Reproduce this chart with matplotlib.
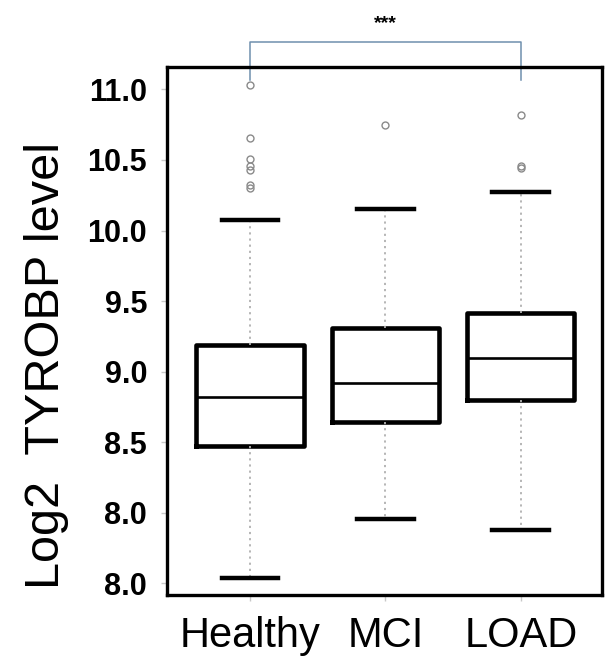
import matplotlib
matplotlib.use("Agg")
import matplotlib.pyplot as plt

# ---- data ----
groups = ["Healthy", "MCI", "LOAD"]
whisker_low = [7.54, 7.955, 7.88]
q1 = [8.473, 8.643, 8.80]
median = [8.82, 8.92, 9.097]
q3 = [9.19, 9.31, 9.416]
whisker_high = [10.075, 10.153, 10.275]
fliers_healthy = [11.03, 10.656, 10.51, 10.46, 10.43, 10.32, 10.30]
fliers_mci = [10.748]
fliers_load = [10.819, 10.458, 10.44]
ytick_values = [7.5, 8.0, 8.5, 9.0, 9.5, 10.0, 10.5, 11.0]
ytick_labels = ["8.0", "8.0", "8.5", "9.0", "9.5", "10.0", "10.5", "11.0"]
ylabel = "Log2  TYROBP level"
sig_text = "***"
sig_pair = (0, 2)

fliers = [fliers_healthy, fliers_mci, fliers_load]

plt.rcParams['font.family'] = ['Liberation Sans', 'DejaVu Sans']

fig = plt.figure(figsize=(6.07, 6.59), dpi=100)
ax = fig.add_axes([0.2746, 0.0971, 0.7171, 0.8017])

stats = []
for i, g in enumerate(groups):
    stats.append(dict(label=g, whislo=whisker_low[i], q1=q1[i], med=median[i],
                      q3=q3[i], whishi=whisker_high[i], fliers=fliers[i]))

positions = [1, 2, 3]
ax.bxp(stats, positions=positions, widths=0.79, showfliers=True,
       boxprops=dict(color='black', linewidth=3.3),
       medianprops=dict(color='black', linewidth=1.9),
       whiskerprops=dict(color='#b0b0b0', linewidth=1.3, linestyle=(0, (1.2, 2.2))),
       capprops=dict(color='black', linewidth=3.2),
       capwidths=0.42,
       flierprops=dict(marker='o', markersize=5, markerfacecolor='none',
                       markeredgecolor='#8a8a8a', markeredgewidth=1.0))

ax.set_xlim(0.385, 3.598)
ax.set_ylim(7.417, 11.161)

ax.set_yticks(ytick_values)
ax.set_yticklabels(ytick_labels, fontsize=22, fontweight='bold')
ax.set_xticks(positions)
ax.set_xticklabels(groups, fontsize=30)
ax.tick_params(axis='y', length=4, width=1, color='#c8c8c8', pad=10)
ax.tick_params(axis='x', length=4, width=1, color='#c8c8c8', pad=11)
ax.set_ylabel(ylabel, fontsize=35)
ax.yaxis.set_label_coords(-0.225, 0.435)

for sp in ax.spines.values():
    sp.set_linewidth(2.4)
    sp.set_color('black')

# significance bracket
x1, x2 = positions[sig_pair[0]], positions[sig_pair[1]]
y_top, y_arm = 11.336, 11.067
ax.plot([x1, x1, x2, x2], [y_arm, y_top, y_top, y_arm], color='#6f8fae',
        linewidth=1.1, clip_on=False)
ax.text((x1 + x2) / 2, 11.47, sig_text, ha='center', va='center',
        fontsize=14, fontweight='bold', clip_on=False)

fig.savefig("out.png", dpi=100)
